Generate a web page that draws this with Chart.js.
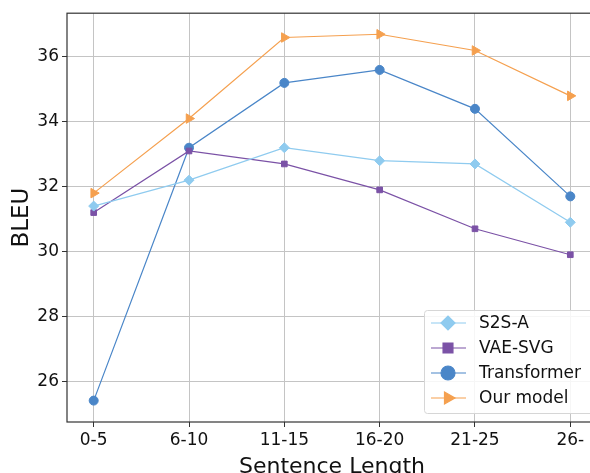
<!DOCTYPE html>
<html>
<head>
<meta charset="utf-8">
<script src="https://cdn.jsdelivr.net/npm/chart.js@4"></script>
<style>
  html, body { margin: 0; padding: 0; overflow: hidden; background: #fff; }
  #wrap { width: 640px; height: 480px; }
</style>
</head>
<body>
<div id="wrap"><canvas id="myChart" width="640" height="480"></canvas></div>
<script>
const lengthLabels = ["0-5", "6-10", "11-15", "16-20", "21-25", "26-"];
const s2sA = [31.4, 32.2, 33.2, 32.8, 32.7, 30.9];
const vaeSvg = [31.2, 33.1, 32.7, 31.9, 30.7, 29.9];
const transformer = [25.4, 33.2, 35.2, 35.6, 34.4, 31.7];
const ourModel = [31.8, 34.1, 36.6, 36.7, 36.2, 34.8];
const yTicks = [26, 28, 30, 32, 34, 36];

const FONT = "'DejaVu Sans', sans-serif";

function toPoints(values) {
  return values.map((v, i) => ({ x: i, y: v }));
}

// draws the spines and the legend box inside the plot
const frameAndLegend = {
  id: "frameAndLegend",
  afterDatasetsDraw(chart) {
    const { ctx, chartArea } = chart;
    ctx.save();
    ctx.strokeStyle = "#333";
    ctx.lineWidth = 1.2;
    ctx.strokeRect(chartArea.left, chartArea.top, chartArea.right - chartArea.left, chartArea.bottom - chartArea.top);

    // legend
    const bx = 424, by = 310, bw = 190, bh = 103;
    ctx.fillStyle = "rgba(255,255,255,0.85)";
    ctx.strokeStyle = "#d6d6d6";
    ctx.lineWidth = 1;
    ctx.beginPath();
    ctx.roundRect(bx + 0.5, by + 0.5, bw, bh, 3);
    ctx.fill();
    ctx.stroke();

    ctx.font = "17px " + FONT;
    ctx.textBaseline = "middle";
    chart.data.datasets.forEach((ds, i) => {
      const y = 323 + i * 25;
      ctx.strokeStyle = ds.borderColor;
      ctx.lineWidth = 1.2;
      ctx.beginPath();
      ctx.moveTo(431, y);
      ctx.lineTo(466, y);
      ctx.stroke();
      ctx.fillStyle = ds.borderColor;
      Chart.helpers.drawPoint(ctx, {
        pointStyle: ds.pointStyle,
        radius: 7,
        rotation: ds.rotation || 0,
        borderWidth: 1
      }, 448, y);
      ctx.fillStyle = "#111";
      ctx.fillText(ds.label, 479, y + 1);
    });
    ctx.restore();
  }
};

const ctx = document.getElementById("myChart");

new Chart(ctx, {
  type: "line",
  data: {
    datasets: [
      {
        label: "S2S-A",
        data: toPoints(s2sA),
        borderColor: "#8fcbef",
        backgroundColor: "#8fcbef",
        pointStyle: "rectRot",
        pointRadius: 5,
      },
      {
        label: "VAE-SVG",
        data: toPoints(vaeSvg),
        borderColor: "#7b52a6",
        backgroundColor: "#7b52a6",
        pointStyle: "rect",
        pointRadius: 4,
      },
      {
        label: "Transformer",
        data: toPoints(transformer),
        borderColor: "#4a86c8",
        backgroundColor: "#4a86c8",
        pointStyle: "circle",
        pointRadius: 4.5,
      },
      {
        label: "Our model",
        data: toPoints(ourModel),
        borderColor: "#f5a04f",
        backgroundColor: "#f5a04f",
        pointStyle: "triangle",
        rotation: 90,
        pointRadius: 5.5,
      },
    ],
  },
  plugins: [frameAndLegend],
  options: {
    responsive: false,
    animation: false,
    layout: { padding: { left: 0, right: 43, top: 12, bottom: 0 } },
    elements: {
      line: { borderWidth: 1.2, tension: 0 },
      point: { borderWidth: 1 },
    },
    plugins: {
      legend: { display: false },
      tooltip: { enabled: false },
    },
    scales: {
      x: {
        type: "linear",
        min: -0.28,
        max: 5.28,
        afterBuildTicks: (scale) => {
          scale.ticks = lengthLabels.map((l, i) => ({ value: i }));
        },
        afterFit: (scale) => { scale.height = 58; },
        grid: { color: "#c4c4c4", lineWidth: 1, tickLength: 5, tickColor: "#333" },
        border: { display: false },
        ticks: {
          color: "#111",
          font: { family: FONT, size: 17 },
          padding: 3,
          callback: (v) => lengthLabels[v],
        },
        title: {
          display: true,
          text: "Sentence Length",
          color: "#111",
          font: { family: FONT, size: 22 },
          padding: { top: 0, bottom: 0 },
        },
      },
      y: {
        min: 24.74,
        max: 37.35,
        afterBuildTicks: (scale) => {
          scale.ticks = yTicks.map((v) => ({ value: v }));
        },
        afterFit: (scale) => { scale.width = 67; },
        grid: { color: "#c4c4c4", lineWidth: 1, tickLength: 5, tickColor: "#333" },
        border: { display: false },
        ticks: {
          color: "#111",
          font: { family: FONT, size: 17 },
          padding: 3,
        },
        title: {
          display: true,
          text: "BLEU",
          color: "#111",
          font: { family: FONT, size: 23 },
          padding: { top: 8, bottom: 0 },
        },
      },
    },
  },
});
</script>
</body>
</html>
